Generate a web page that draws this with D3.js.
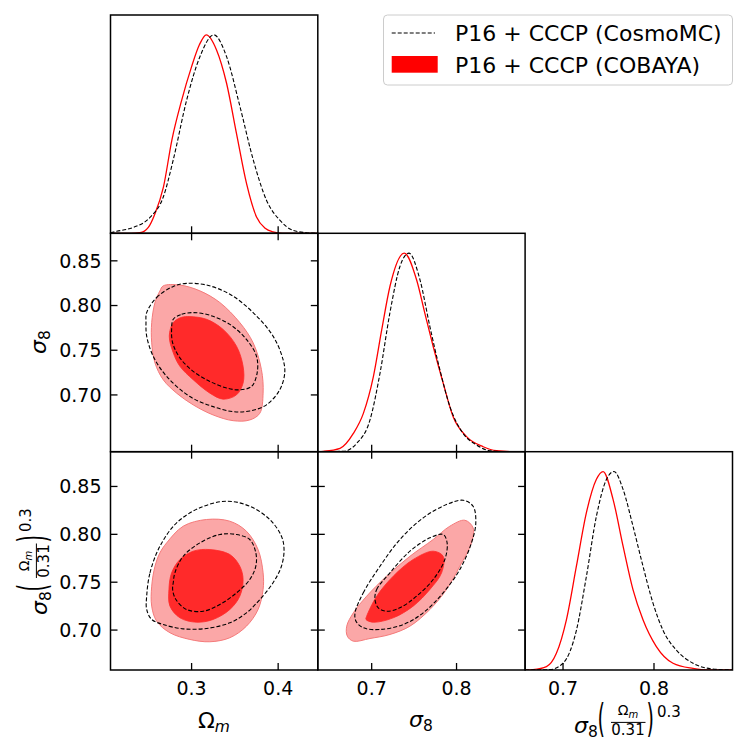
<!DOCTYPE html>
<html><head><meta charset="utf-8">
<script src="https://cdn.jsdelivr.net/npm/d3@7"></script>
<style>
html,body{margin:0;padding:0;background:#fff;}
text{font-family:"DejaVu Sans",sans-serif;fill:#000;}
</style></head>
<body><svg id="c" width="748" height="754"></svg>
<script>
// ---------------- data ----------------
const paramNames = ["omegam", "sigma8", "S8"];
const paramRanges = [[0.2063, 0.4458], [0.6365, 0.8808], [0.6583, 0.8863]];
const xTicks = [[0.3, 0.4], [0.7, 0.8], [0.7, 0.8]];
const xTickLabels = [["0.3", "0.4"], ["0.7", "0.8"], ["0.7", "0.8"]];
const yTicks = [[], [0.70, 0.75, 0.80, 0.85], [0.70, 0.75, 0.80, 0.85]];
const yTickLabels = [[], ["0.70", "0.75", "0.80", "0.85"], ["0.70", "0.75", "0.80", "0.85"]];
const legendLabels = ["P16 + CCCP (CosmoMC)", "P16 + CCCP (COBAYA)"];

// 1D marginals (normalised to peak 1)
const om1D_red_x = [0.2063, 0.2300, 0.2404, 0.2500, 0.2578, 0.2675, 0.2772, 0.2885, 0.3000, 0.3090, 0.3170, 0.3288, 0.3404, 0.3520, 0.3635, 0.3750, 0.3850, 0.3940, 0.4050, 0.4458];
const om1D_red_p = [0, 0, 0.003, 0.03, 0.10, 0.234, 0.47, 0.67, 0.84, 0.95, 1, 0.924, 0.756, 0.50, 0.25, 0.082, 0.025, 0.007, 0, 0];
const om1D_blk_x = [0.2063, 0.2135, 0.2327, 0.2519, 0.2673, 0.2788, 0.2942, 0.3096, 0.3257, 0.3404, 0.3558, 0.3712, 0.3865, 0.4019, 0.4170, 0.4327, 0.4458];
const om1D_blk_p = [0.003, 0.01, 0.03, 0.08, 0.183, 0.37, 0.67, 0.89, 1, 0.89, 0.64, 0.37, 0.167, 0.066, 0.015, 0.003, 0];

const s81D_red_x = [0.6365, 0.6431, 0.6627, 0.6784, 0.6902, 0.7020, 0.7118, 0.7215, 0.7384, 0.7529, 0.7627, 0.7725, 0.7843, 0.7960, 0.8118, 0.8314, 0.8470, 0.8700, 0.8808];
const s81D_red_p = [0, 0.002, 0.017, 0.092, 0.193, 0.378, 0.613, 0.832, 1, 0.866, 0.697, 0.53, 0.345, 0.176, 0.076, 0.025, 0.005, 0, 0];
const s81D_blk_x = [0.6365, 0.6666, 0.6823, 0.6980, 0.7098, 0.7215, 0.7333, 0.7439, 0.7569, 0.7686, 0.7804, 0.7922, 0.8078, 0.8235, 0.8392, 0.8600, 0.8808];
const s81D_blk_p = [0, 0.002, 0.042, 0.16, 0.395, 0.70, 0.933, 1, 0.866, 0.63, 0.412, 0.227, 0.092, 0.034, 0.005, 0, 0];

const S81D_red_x = [0.6583, 0.6670, 0.6818, 0.6927, 0.7037, 0.7147, 0.7257, 0.7367, 0.7440, 0.7550, 0.7660, 0.7769, 0.7879, 0.8026, 0.8209, 0.8429, 0.8600, 0.8863];
const S81D_red_p = [0, 0.002, 0.017, 0.084, 0.253, 0.523, 0.793, 0.961, 1, 0.86, 0.624, 0.405, 0.253, 0.118, 0.034, 0.008, 0, 0];
const S81D_blk_x = [0.6583, 0.6854, 0.7000, 0.7147, 0.7257, 0.7367, 0.7477, 0.7560, 0.7660, 0.7769, 0.7879, 0.7989, 0.8099, 0.8246, 0.8429, 0.8648, 0.8863];
const S81D_blk_p = [0, 0.002, 0.034, 0.2, 0.472, 0.775, 0.96, 1, 0.91, 0.725, 0.523, 0.337, 0.2, 0.1, 0.034, 0.005, 0];

// 2D contours: [x, y] pairs
const omS8_red2 = [[0.2672,0.822],[0.2865,0.8229],[0.3096,0.8164],[0.3326,0.8034],[0.3557,0.7809],[0.3711,0.7583],[0.3807,0.7283],[0.3826,0.702],[0.3788,0.6795],[0.3672,0.672],[0.348,0.6712],[0.3249,0.6776],[0.3018,0.6889],[0.2827,0.702],[0.2672,0.717],[0.2577,0.7358],[0.2539,0.7583],[0.2539,0.7809],[0.2577,0.8034],[0.2634,0.8164]];
const omS8_red1 = [[0.298,0.7876],[0.3173,0.7846],[0.3364,0.7733],[0.3519,0.7545],[0.3595,0.732],[0.3595,0.7133],[0.3519,0.7001],[0.3364,0.6953],[0.3211,0.702],[0.3018,0.717],[0.2865,0.732],[0.2788,0.7471],[0.2742,0.7658],[0.2788,0.7809],[0.2885,0.7868]];
const omS8_blk2 = [[0.2481,0.7921],[0.2596,0.809],[0.2788,0.8214],[0.2942,0.8248],[0.3173,0.8229],[0.3442,0.8127],[0.3711,0.7921],[0.3941,0.7658],[0.4057,0.7395],[0.4076,0.7245],[0.4018,0.7057],[0.3865,0.6889],[0.3672,0.6821],[0.348,0.6813],[0.3249,0.6869],[0.298,0.6982],[0.2712,0.7207],[0.2557,0.7432],[0.2481,0.7658],[0.2473,0.7809]];
const omS8_blk1 = [[0.2788,0.7846],[0.2885,0.7902],[0.3018,0.7921],[0.3211,0.7891],[0.3442,0.7789],[0.3634,0.7621],[0.375,0.7432],[0.3757,0.7245],[0.3692,0.7095],[0.3557,0.7057],[0.3404,0.7077],[0.3211,0.7151],[0.3018,0.7264],[0.2865,0.7414],[0.2781,0.7583],[0.2769,0.7733]];

const omSS_red2 = [[0.2712,0.7911],[0.2903,0.8085],[0.3173,0.8155],[0.3442,0.8137],[0.3634,0.8032],[0.3768,0.7841],[0.3826,0.7598],[0.3826,0.7424],[0.3768,0.7215],[0.3634,0.7041],[0.3442,0.692],[0.3211,0.6878],[0.298,0.6902],[0.275,0.6972],[0.2596,0.7093],[0.2539,0.725],[0.2539,0.7458],[0.2577,0.7667],[0.2634,0.7807]];
const omSS_red1 = [[0.2865,0.7737],[0.3018,0.7824],[0.3211,0.7841],[0.3442,0.7789],[0.3557,0.7667],[0.3595,0.7528],[0.3557,0.7354],[0.3442,0.7215],[0.3249,0.7111],[0.3058,0.7082],[0.2865,0.7128],[0.275,0.725],[0.2738,0.7424],[0.2769,0.7598]];
const omSS_blk2 = [[0.2481,0.7354],[0.2519,0.7598],[0.2634,0.7876],[0.2827,0.812],[0.3096,0.8277],[0.3404,0.8346],[0.3672,0.8293],[0.3903,0.8155],[0.4038,0.798],[0.4068,0.7841],[0.4038,0.7667],[0.3941,0.7494],[0.3788,0.7319],[0.3634,0.718],[0.3442,0.7076],[0.3173,0.7017],[0.2903,0.7013],[0.2672,0.7058],[0.2539,0.7111],[0.2481,0.7215]];
const omSS_blk1 = [[0.2788,0.7494],[0.2807,0.7598],[0.2903,0.7771],[0.3096,0.7911],[0.3326,0.7998],[0.3519,0.7998],[0.3672,0.7946],[0.3742,0.7807],[0.3742,0.7667],[0.3672,0.7528],[0.3519,0.7389],[0.3326,0.7267],[0.3134,0.7197],[0.2942,0.7215],[0.2819,0.7319],[0.2781,0.7424]];

const s8SS_red2 = [[0.6706,0.7041],[0.6784,0.718],[0.6941,0.7354],[0.7176,0.7563],[0.7451,0.7771],[0.7725,0.7946],[0.7921,0.8085],[0.8098,0.8147],[0.8195,0.8068],[0.8176,0.7911],[0.8039,0.7667],[0.7882,0.7424],[0.7686,0.7215],[0.7451,0.7041],[0.7215,0.6954],[0.698,0.6912],[0.6784,0.6884],[0.6713,0.6936]];
const s8SS_red1 = [[0.6941,0.7145],[0.7059,0.7354],[0.7254,0.7563],[0.7489,0.7737],[0.7725,0.7824],[0.7842,0.7771],[0.7824,0.7598],[0.7686,0.7424],[0.7489,0.725],[0.7254,0.7128],[0.7019,0.7082],[0.6933,0.7111]];
const s8SS_blk2 = [[0.6804,0.718],[0.6901,0.7389],[0.7098,0.7667],[0.7333,0.7946],[0.7607,0.8172],[0.7882,0.8311],[0.8078,0.8356],[0.8195,0.8293],[0.8227,0.812],[0.8176,0.7911],[0.8039,0.7633],[0.7842,0.7389],[0.7607,0.718],[0.7372,0.7058],[0.7098,0.7006],[0.6901,0.7024],[0.6815,0.7093]];
const s8SS_blk1 = [[0.7039,0.7319],[0.7059,0.7424],[0.7215,0.7598],[0.7451,0.7824],[0.7686,0.7963],[0.7842,0.7998],[0.7889,0.7911],[0.7862,0.7737],[0.7725,0.7528],[0.7529,0.7354],[0.7333,0.7233],[0.7176,0.7197],[0.7078,0.7233]];

// ---------------- layout ----------------
const colX = [110.5, 317.8, 525.1, 732.5];
const rowY = [15, 233.3, 451.7, 670];
const C_RED = "#ff0000", C_LIGHT = "#fba7a7", C_LIGHT_EDGE = "#f47a7a", C_DARK = "#ff2a2a";
const svg = d3.select("#c");

const xs = paramRanges.map((r, i) => d3.scaleLinear().domain(r).range([colX[i], colX[i + 1]]));
const ys = paramRanges.map((r, i) => d3.scaleLinear().domain(r).range([rowY[i + 1], rowY[i]]));

let clipId = 0;
function makeClip(x0, y0, x1, y1) {
  const id = "clip" + (clipId++);
  svg.append("clipPath").attr("id", id).append("rect")
    .attr("x", x0).attr("y", y0).attr("width", x1 - x0).attr("height", y1 - y0);
  return "url(#" + id + ")";
}

const TL = 7;
function frame(col, row, is2D) {
  const x0 = colX[col], x1 = colX[col + 1], y0 = rowY[row], y1 = rowY[row + 1];
  const g = svg.append("g");
  const xsc = xs[col];
  xTicks[col].forEach(t => {
    const px = xsc(t);
    g.append("line").attr("x1", px).attr("x2", px).attr("y1", y1).attr("y2", y1 - TL).attr("stroke", "#000").attr("stroke-width", 1.3);
    if (is2D) g.append("line").attr("x1", px).attr("x2", px).attr("y1", y0).attr("y2", y0 + TL).attr("stroke", "#000").attr("stroke-width", 1.3);
  });
  if (is2D) {
    const ysc = ys[row];
    yTicks[row].forEach(t => {
      const py = ysc(t);
      g.append("line").attr("x1", x0).attr("x2", x0 + TL).attr("y1", py).attr("y2", py).attr("stroke", "#000").attr("stroke-width", 1.3);
      g.append("line").attr("x1", x1).attr("x2", x1 - TL).attr("y1", py).attr("y2", py).attr("stroke", "#000").attr("stroke-width", 1.3);
    });
  }
  g.append("rect").attr("x", x0).attr("y", y0).attr("width", x1 - x0).attr("height", y1 - y0)
    .attr("fill", "none").attr("stroke", "#000").attr("stroke-width", 1.5);
}

// 1D panels
const oneD = [
  [om1D_red_x, om1D_red_p, om1D_blk_x, om1D_blk_p],
  [s81D_red_x, s81D_red_p, s81D_blk_x, s81D_blk_p],
  [S81D_red_x, S81D_red_p, S81D_blk_x, S81D_blk_p]
];
oneD.forEach((d, i) => {
  const yp = d3.scaleLinear().domain([0, 1.1]).range([rowY[i + 1], rowY[i]]);
  const clip = makeClip(colX[i], rowY[i], colX[i + 1], rowY[i + 1]);
  const g = svg.append("g").attr("clip-path", clip);
  const line = d3.line().x(p => xs[i](p[0])).y(p => yp(p[1])).curve(d3.curveMonotoneX);
  g.append("path").attr("d", line(d[0].map((v, k) => [v, d[1][k]])))
    .attr("fill", "none").attr("stroke", C_RED).attr("stroke-width", 1.3);
  g.append("path").attr("d", line(d[2].map((v, k) => [v, d[3][k]])))
    .attr("fill", "none").attr("stroke", "#000").attr("stroke-width", 1.1).attr("stroke-dasharray", "4,2");
  frame(i, i, false);
});

// 2D panels
const twoD = [
  { c: 0, r: 1, sets: [omS8_red2, omS8_red1, omS8_blk2, omS8_blk1] },
  { c: 0, r: 2, sets: [omSS_red2, omSS_red1, omSS_blk2, omSS_blk1] },
  { c: 1, r: 2, sets: [s8SS_red2, s8SS_red1, s8SS_blk2, s8SS_blk1] }
];
twoD.forEach(p => {
  const clip = makeClip(colX[p.c], rowY[p.r], colX[p.c + 1], rowY[p.r + 1]);
  const g = svg.append("g").attr("clip-path", clip);
  const line = d3.line().x(q => xs[p.c](q[0])).y(q => ys[p.r](q[1])).curve(d3.curveCatmullRomClosed.alpha(0.5));
  g.append("path").attr("d", line(p.sets[0])).attr("fill", C_LIGHT).attr("stroke", C_LIGHT_EDGE).attr("stroke-width", 1);
  g.append("path").attr("d", line(p.sets[1])).attr("fill", C_DARK).attr("stroke", C_DARK).attr("stroke-width", 0.8);
  g.append("path").attr("d", line(p.sets[2])).attr("fill", "none").attr("stroke", "#000").attr("stroke-width", 1.1).attr("stroke-dasharray", "4,2");
  g.append("path").attr("d", line(p.sets[3])).attr("fill", "none").attr("stroke", "#000").attr("stroke-width", 1.1).attr("stroke-dasharray", "4,2");
  frame(p.c, p.r, true);
});

// tick labels
const TF = 19;
[0, 1, 2].forEach(c => {
  xTicks[c].forEach((t, k) => {
    svg.append("text").attr("x", xs[c](t)).attr("y", 695).attr("text-anchor", "middle")
      .attr("font-size", TF).text(xTickLabels[c][k]);
  });
});
[1, 2].forEach(r => {
  yTicks[r].forEach((t, k) => {
    svg.append("text").attr("x", 101.5).attr("y", ys[r](t)).attr("dy", "0.36em").attr("text-anchor", "end")
      .attr("font-size", TF).text(yTickLabels[r][k]);
  });
});

// axis labels
const LF = 22;
function omLabel(g) {
  const t = g.append("text").attr("font-size", LF).attr("text-anchor", "middle");
  t.append("tspan").text("Ω");
  t.append("tspan").attr("font-size", 15.5).attr("font-style", "italic").attr("dy", 4).text("m");
}
function s8Label(g) {
  const t = g.append("text").attr("font-size", LF).attr("text-anchor", "middle");
  t.append("tspan").attr("font-style", "italic").text("σ");
  t.append("tspan").attr("font-size", 15.5).attr("dy", 4).text("8");
}
function S8Label(g) {
  // local coords: baseline of sigma at y=0, label spans x 0..108
  const h = g.append("g").attr("transform", "translate(-54,0)");
  const t1 = h.append("text").attr("x", 0).attr("y", 0).attr("font-size", LF);
  t1.append("tspan").attr("font-style", "italic").text("σ");
  t1.append("tspan").attr("font-size", 15.5).attr("dy", 4).text("8");
  h.append("text").attr("transform", "translate(23.5,-1) scale(0.8,1.6)").attr("font-size", 24).text("(");
  const num = h.append("text").attr("x", 54).attr("y", -18).attr("font-size", 14).attr("text-anchor", "middle");
  num.append("tspan").text("Ω");
  num.append("tspan").attr("font-size", 10).attr("font-style", "italic").attr("dy", 2.5).text("m");
  h.append("line").attr("x1", 37).attr("x2", 71.5).attr("y1", -10.6).attr("y2", -10.6).attr("stroke", "#000").attr("stroke-width", 1);
  h.append("text").attr("x", 54).attr("y", 1.7).attr("font-size", 15).attr("text-anchor", "middle").text("0.31");
  h.append("text").attr("transform", "translate(72.5,-1) scale(0.8,1.6)").attr("font-size", 24).text(")");
  h.append("text").attr("x", 83).attr("y", -16.3).attr("font-size", 15).text("0.3");
}
omLabel(svg.append("g").attr("transform", "translate(214,728)"));
s8Label(svg.append("g").attr("transform", "translate(421,727)"));
S8Label(svg.append("g").attr("transform", "translate(628,733)"));
s8Label(svg.append("g").attr("transform", "translate(46,342) rotate(-90)"));
S8Label(svg.append("g").attr("transform", "translate(47,561) rotate(-90)"));

// legend
const lg = svg.append("g");
lg.append("rect").attr("x", 383.5).attr("y", 15).attr("width", 349).attr("height", 70).attr("rx", 4)
  .attr("fill", "#fff").attr("stroke", "#cccccc").attr("stroke-width", 1);
lg.append("line").attr("x1", 391.7).attr("x2", 435).attr("y1", 33).attr("y2", 33)
  .attr("stroke", "#000").attr("stroke-width", 1.1).attr("stroke-dasharray", "4,2");
lg.append("rect").attr("x", 391.7).attr("y", 56).attr("width", 46).attr("height", 16.7).attr("fill", C_RED);
lg.append("text").attr("x", 455).attr("y", 40.5).attr("font-size", 22).text(legendLabels[0]);
lg.append("text").attr("x", 455).attr("y", 72.5).attr("font-size", 22).text(legendLabels[1]);
</script></body></html>
